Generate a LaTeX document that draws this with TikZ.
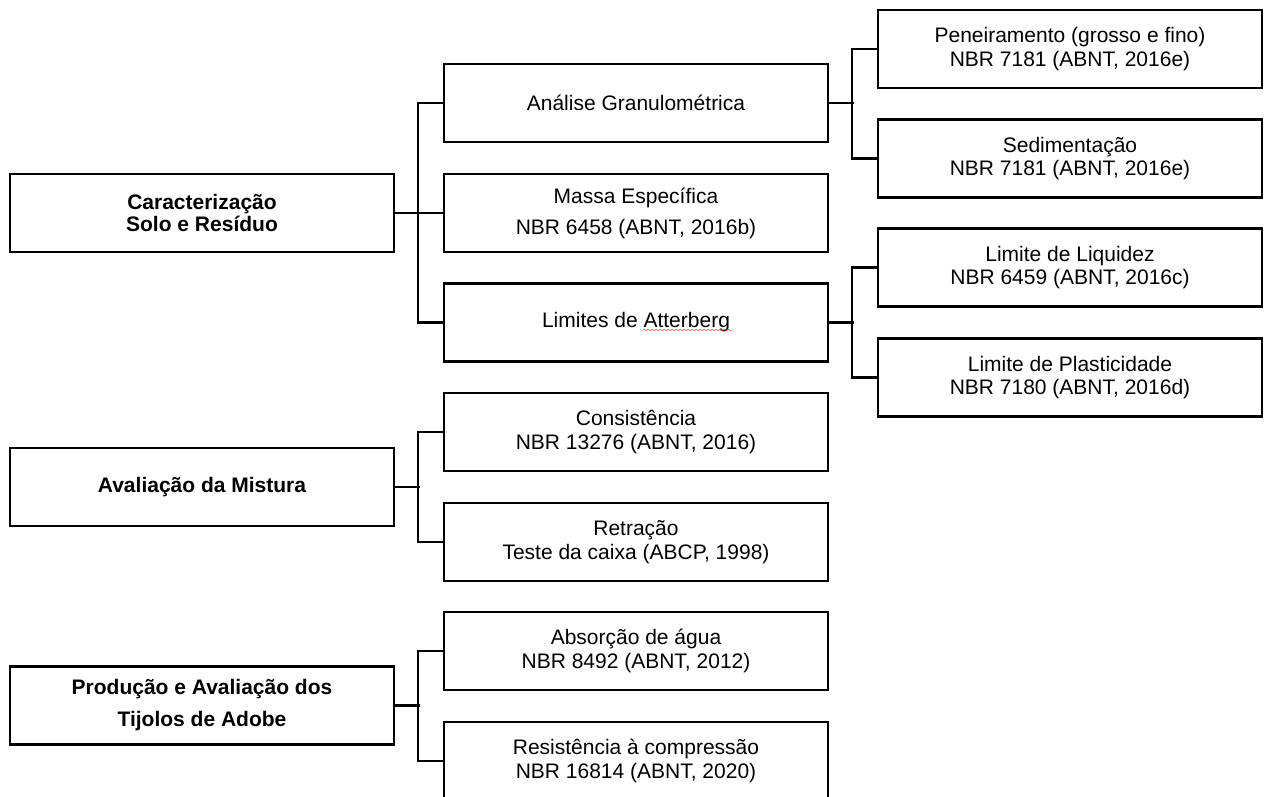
\documentclass[tikz,border=0pt]{standalone}
\usepackage{fontspec}
\setmainfont{Liberation Sans}
\usetikzlibrary{decorations.pathmorphing}
\tikzset{
  box/.style={draw=black, line width=2.2pt, fill=white, minimum width=384pt, minimum height=78pt, inner sep=0pt, align=center, font=\fontsize{21}{23.5}\selectfont},
  mainbox/.style={box, font=\fontsize{21}{22}\selectfont\bfseries},
  link/.style={draw=black, line width=2.2pt, line join=miter}
}
\begin{document}
\begin{tikzpicture}[x=1pt,y=1pt]
\useasboundingbox (0,0) rectangle (1264,797);
\clip (0,0) rectangle (1264,797);
% left column
\node[mainbox] (car) at (202,584) {Caracterização\\Solo e Resíduo};
\node[mainbox] (ava) at (202,310) {Avaliação da Mistura};
\node[mainbox, font=\fontsize{21}{32}\selectfont\bfseries] (pro) at (202,91.5) {Produção e Avaliação dos\\Tijolos de Adobe};
% middle column
\node[box] (ana) at (636,694) {Análise Granulométrica};
\node[box, font=\fontsize{21}{31}\selectfont] (mas) at (636,584) {Massa Específica\\NBR 6458 (ABNT, 2016b)};
\node[box] (lim) at (636,474.5) {Limites de Atterberg};
\node[box] (con) at (636,365) {Consistência\\NBR 13276 (ABNT, 2016)};
\node[box] (ret) at (636,255) {Retração\\Teste da caixa (ABCP, 1998)};
\node[box] (abs) at (636,146) {Absorção de água\\NBR 8492 (ABNT, 2012)};
\node[box] (res) at (636,36) {Resistência à compressão\\NBR 16814 (ABNT, 2020)};
% right column
\node[box] (pen) at (1070,748) {Peneiramento (grosso e fino)\\NBR 7181 (ABNT, 2016e)};
\node[box] (sed) at (1070,638.5) {Sedimentação\\NBR 7181 (ABNT, 2016e)};
\node[box] (liq) at (1070,529.5) {Limite de Liquidez\\NBR 6459 (ABNT, 2016c)};
\node[box] (pla) at (1070,419.5) {Limite de Plasticidade\\NBR 7180 (ABNT, 2016d)};
% connectors
\draw[link] (car.east) -- (mas.west);
\draw[link] (ana.west) -- ++(-25,0) |- (lim.west);
\draw[link] (ava.east) -- ++(25,0);
\draw[link] (con.west) -- ++(-25,0) |- (ret.west);
\draw[link] (pro.east) -- ++(25,0);
\draw[link] (abs.west) -- ++(-25,0) |- (res.west);
\draw[link] (ana.east) -- ++(25,0);
\draw[link] (pen.west) -- ++(-25,0) |- (sed.west);
\draw[link] (lim.east) -- ++(25,0);
\draw[link] (liq.west) -- ++(-25,0) |- (pla.west);
% spell-check squiggle
\coordinate (sqa) at (643,467);
\coordinate (sqb) at (732,467);
\draw[red!70, line width=0.6pt, decorate, decoration={snake, segment length=4pt, amplitude=0.6pt}] (sqa) -- (sqb);
\end{tikzpicture}
\end{document}
